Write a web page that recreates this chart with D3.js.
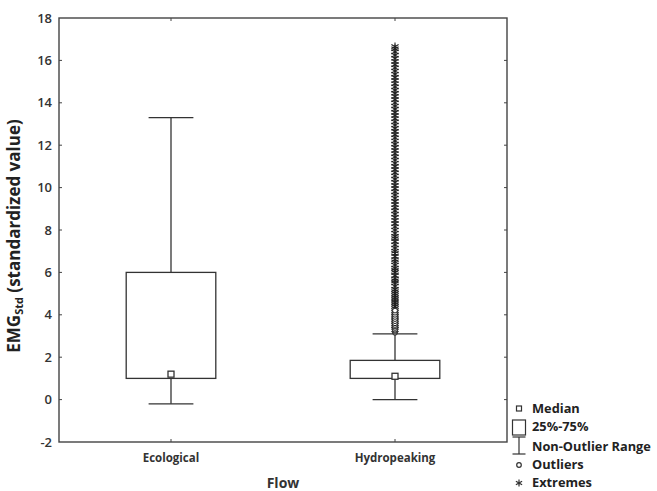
<!DOCTYPE html>
<html>
<head>
<meta charset="utf-8">
<script src="https://cdn.jsdelivr.net/npm/d3@7"></script>
<style>
  body { margin: 0; background: #fff; }
  text { font-family: "Open Sans", sans-serif; }
</style>
</head>
<body>
<svg width="657" height="491"></svg>
<script>
// categories and summary stats
var groups = ['Ecological', 'Hydropeaking'];
var whiskerLow = [-0.2, 0.0];
var q1 = [1.0, 1.0];
var medians = [1.2, 1.1];
var q3 = [6.0, 1.85];
var whiskerHigh = [13.3, 3.1];

// hydropeaking outliers (circles) and extremes (stars)
var outliers = [3.15, 3.2, 3.25, 3.3, 3.38, 3.45, 3.52, 3.6, 3.7, 3.8, 3.9, 4.0, 4.1, 4.2];
var extremes = [3.3, 3.4, 3.5, 3.6, 3.7, 3.8, 3.9, 4.0, 4.1, 4.2, 4.3, 4.4, 4.5, 4.6, 4.7,
  4.8, 4.9, 5.0, 5.1, 5.2, 5.35, 5.5, 5.6, 5.7, 5.85, 6.0, 6.1, 6.2, 6.35, 6.5, 6.6, 6.75,
  6.9, 7.0, 7.15, 7.3, 7.45, 7.6, 7.7, 7.85, 8.0, 8.15, 8.3, 8.45, 8.6, 8.75, 8.9, 9.05,
  9.2, 9.35, 9.5, 9.65, 9.8, 9.95, 10.1, 10.25, 10.4, 10.55, 10.7, 10.85, 11.0, 11.15,
  11.3, 11.45, 11.6, 11.75, 11.9, 12.05, 12.2, 12.35, 12.5, 12.65, 12.8, 12.95, 13.1,
  13.25, 13.4, 13.55, 13.7, 13.85, 14.0, 14.15, 14.3, 14.45, 14.6, 14.75, 14.9, 15.05,
  15.2, 15.35, 15.5, 15.65, 15.8, 15.95, 16.1, 16.25, 16.4, 16.55, 16.65];
var yTicks = [-2, 0, 2, 4, 6, 8, 10, 12, 14, 16, 18];

var svg = d3.select('svg');
var pLeft = 59, pRight = 507, pTop = 18, pBottom = 442;
var ink = '#333';

var x = d3.scaleBand().domain(groups).range([pLeft, pRight]);
var y = d3.scaleLinear().domain([-2, 18]).range([pBottom, pTop]);

var bw = x.bandwidth();
var boxW = bw * 0.4;
var capW = bw * 0.2;

// frame
svg.append('rect')
  .attr('x', pLeft).attr('y', pTop)
  .attr('width', pRight - pLeft).attr('height', pBottom - pTop)
  .attr('fill', 'none').attr('stroke', '#444').attr('stroke-width', 1.4);

// y ticks (inward on both sides)
yTicks.forEach(function (t) {
  if (t === -2 || t === 18) return;
  svg.append('line').attr('x1', pLeft).attr('x2', pLeft + 3)
    .attr('y1', y(t)).attr('y2', y(t)).attr('stroke', '#444');
  svg.append('line').attr('x1', pRight).attr('x2', pRight - 3)
    .attr('y1', y(t)).attr('y2', y(t)).attr('stroke', '#444');
});
svg.selectAll('.ylab').data(yTicks).enter().append('text')
  .attr('x', pLeft - 7).attr('y', function (d) { return y(d); })
  .attr('dy', '0.35em').attr('text-anchor', 'end')
  .attr('font-size', 13).attr('font-weight', 600).attr('fill', '#333')
  .text(function (d) { return d; });

// x ticks
groups.forEach(function (g) {
  var cx = x(g) + bw / 2;
  svg.append('line').attr('x1', cx).attr('x2', cx)
    .attr('y1', pBottom).attr('y2', pBottom - 3).attr('stroke', '#444');
  svg.append('line').attr('x1', cx).attr('x2', cx)
    .attr('y1', pTop).attr('y2', pTop + 3).attr('stroke', '#444');
  svg.append('text').attr('x', cx).attr('y', 458).attr('dy', '0.35em')
    .attr('text-anchor', 'middle').attr('font-size', 11.5).attr('font-weight', 700)
    .attr('fill', '#333').text(g);
});

// axis titles
svg.append('text').attr('x', (pLeft + pRight) / 2).attr('y', 483).attr('dy', '0.35em')
  .attr('text-anchor', 'middle').attr('font-size', 14).attr('font-weight', 700)
  .attr('fill', '#333').text('Flow');

var yt = svg.append('text')
  .attr('transform', 'translate(20,' + ((pTop + pBottom) / 2 + 6) + ') rotate(-90)')
  .attr('text-anchor', 'middle').attr('font-size', 17).attr('font-weight', 700)
  .attr('fill', '#222');
yt.append('tspan').text('EMG');
yt.append('tspan').attr('font-size', 11).attr('dy', 3).text('Std');
yt.append('tspan').attr('dy', -3).text(' (standardized value)');

// boxes
groups.forEach(function (g, i) {
  var cx = x(g) + bw / 2;
  var gg = svg.append('g').attr('stroke', ink).attr('stroke-width', 1.3).attr('fill', 'none');
  gg.append('line').attr('x1', cx).attr('x2', cx)
    .attr('y1', y(whiskerHigh[i])).attr('y2', y(q3[i]));
  gg.append('line').attr('x1', cx).attr('x2', cx)
    .attr('y1', y(q1[i])).attr('y2', y(whiskerLow[i]));
  gg.append('line').attr('x1', cx - capW / 2).attr('x2', cx + capW / 2)
    .attr('y1', y(whiskerHigh[i])).attr('y2', y(whiskerHigh[i]));
  gg.append('line').attr('x1', cx - capW / 2).attr('x2', cx + capW / 2)
    .attr('y1', y(whiskerLow[i])).attr('y2', y(whiskerLow[i]));
  gg.append('rect').attr('x', cx - boxW / 2).attr('y', y(q3[i]))
    .attr('width', boxW).attr('height', y(q1[i]) - y(q3[i]));
  gg.append('rect').attr('x', cx - 3).attr('y', y(medians[i]) - 3)
    .attr('width', 6).attr('height', 6).attr('fill', '#fff');
});

// outliers and extremes for hydropeaking
var hx = x('Hydropeaking') + bw / 2;
var star = d3.symbol().type(d3.symbolAsterisk).size(48);
svg.selectAll('.ext').data(extremes).enter().append('path')
  .attr('d', star)
  .attr('transform', function (d) { return 'translate(' + hx + ',' + y(d) + ')'; })
  .attr('fill', 'none').attr('stroke', '#222').attr('stroke-width', 1.1);
svg.selectAll('.out').data(outliers).enter().append('circle')
  .attr('cx', hx).attr('cy', function (d) { return y(d); }).attr('r', 2.4)
  .attr('fill', '#fff').attr('stroke', '#222').attr('stroke-width', 1);

// legend
var lx = 519, tx = 532;
var lg = svg.append('g').attr('stroke', ink).attr('stroke-width', 1.2).attr('fill', 'none');
lg.append('rect').attr('x', lx - 2.5).attr('y', 406).attr('width', 5).attr('height', 5);
lg.append('rect').attr('x', lx - 6.5).attr('y', 420).attr('width', 13).attr('height', 15);
lg.append('line').attr('x1', lx - 6.5).attr('x2', lx + 6.5).attr('y1', 437).attr('y2', 437);
lg.append('line').attr('x1', lx).attr('x2', lx).attr('y1', 437).attr('y2', 454);
lg.append('line').attr('x1', lx - 6.5).attr('x2', lx + 6.5).attr('y1', 454).attr('y2', 454);
lg.append('circle').attr('cx', lx).attr('cy', 465).attr('r', 2.3);
lg.append('path').attr('d', d3.symbol().type(d3.symbolAsterisk).size(36))
  .attr('transform', 'translate(' + lx + ',483)');

var legendLabels = ['Median', '25%-75%', 'Non-Outlier Range', 'Outliers', 'Extremes'];
var legendY = [409, 427, 447, 465, 483];
svg.selectAll('.leg').data(legendLabels).enter().append('text')
  .attr('x', tx).attr('y', function (d, i) { return legendY[i]; }).attr('dy', '0.35em')
  .attr('font-size', 12.8).attr('font-weight', 700).attr('fill', '#222')
  .text(function (d) { return d; });
</script>
</body>
</html>
